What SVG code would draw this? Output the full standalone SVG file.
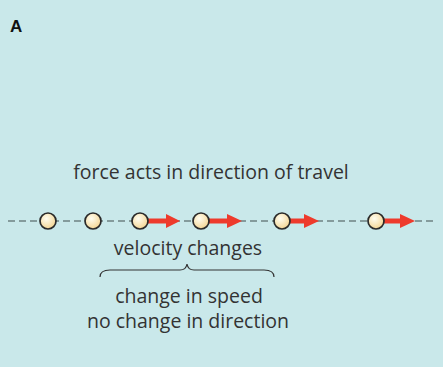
<svg xmlns="http://www.w3.org/2000/svg" width="443" height="367" viewBox="0 0 443 367">
<style>
.t{font-family:"Open Sans","Liberation Sans",sans-serif;font-size:19.5px;fill:#333;text-anchor:middle}
.ball{fill:url(#g);stroke:#2a2a2a;stroke-width:1.7}
.arr{stroke:#ee3a2c;stroke-width:5;fill:none}
.head{fill:#ee3a2c}
</style>
<defs>
<radialGradient id="g" cx="0.4" cy="0.35" r="0.7">
<stop offset="0" stop-color="#fffdf0"/>
<stop offset="1" stop-color="#f3d38e"/>
</radialGradient>
</defs>
<rect x="0" y="0" width="443" height="367" fill="#c9e8ea"/>
<text x="10" y="32" font-family="Liberation Sans,Arial,sans-serif" font-weight="bold" font-size="17" fill="#111">A</text>
<text class="t" x="211" y="179">force acts in direction of travel</text>
<g id="connectors">
<line x1="8" y1="221" x2="435" y2="221" stroke="#6e8183" stroke-width="1.6" stroke-dasharray="7 4"/>
</g>
<g id="arrows">
<path class="arr" d="M147 221H168"/><path class="head" d="M166 214L180 221L166 228Z"/>
<path class="arr" d="M208 221H229"/><path class="head" d="M227 214L242 221L227 228Z"/>
<path class="arr" d="M289 221H306"/><path class="head" d="M304 214L319 221L304 228Z"/>
<path class="arr" d="M383 221H402"/><path class="head" d="M400 214L415 221L400 228Z"/>
</g>
<g id="balls">
<circle id="b1" class="ball" cx="48" cy="221" r="8"/>
<circle id="b2" class="ball" cx="93" cy="221" r="8"/>
<circle id="b3" class="ball" cx="140" cy="221" r="8"/>
<circle id="b4" class="ball" cx="201" cy="221" r="8"/>
<circle id="b5" class="ball" cx="282" cy="221" r="8"/>
<circle id="b6" class="ball" cx="376" cy="221" r="8"/>
</g>
<text class="t" x="188" y="255">velocity changes</text>
<path d="M100 277Q100 270 110 270H180Q186 270 187 264Q188 270 194 270H264Q274 270 274 277" fill="none" stroke="#333" stroke-width="1.2"/>
<text class="t" x="189" y="303">change in speed</text>
<text class="t" x="188" y="328">no change in direction</text>
</svg>
